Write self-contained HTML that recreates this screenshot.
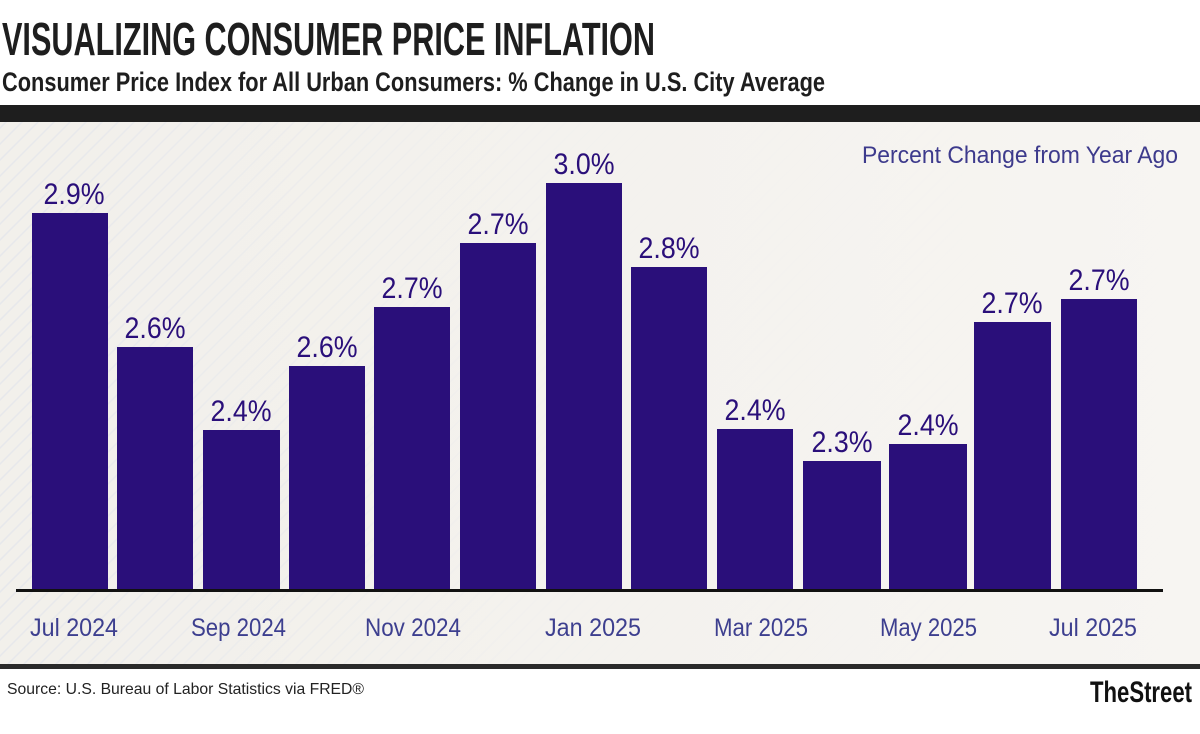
<!DOCTYPE html>
<html><head><meta charset="utf-8"><style>
html,body{margin:0;padding:0;background:#fff;}
svg{display:block}
text{font-family:"Liberation Sans Narrow","Liberation Sans",sans-serif;}
</style></head><body>
<svg width="1200" height="734" viewBox="0 0 1200 734" xmlns="http://www.w3.org/2000/svg">
<defs>
<pattern id="hb" width="16" height="16" patternUnits="userSpaceOnUse">
<rect width="16" height="16" fill="#f1efea"/>
<path d="M0 16 L16 0 M-4 4 L4 -4 M12 20 L20 12" stroke="#e3e5ea" stroke-width="1.5"/>
</pattern>
<linearGradient id="fade" x1="0" x2="1" y1="0" y2="0">
<stop offset="0" stop-color="#f4f2ee" stop-opacity="0.2"/>
<stop offset="0.45" stop-color="#f4f2ee" stop-opacity="0.9"/>
<stop offset="1" stop-color="#f7f5f2" stop-opacity="1"/>
</linearGradient>
</defs>
<rect width="1200" height="734" fill="#fff"/>
<text x="2" y="55" font-size="46" font-weight="bold" fill="#1e1e1e" textLength="653" lengthAdjust="spacingAndGlyphs">VISUALIZING CONSUMER PRICE INFLATION</text>
<text x="2" y="91" font-size="27" font-weight="bold" fill="#1e1e1e" textLength="823" lengthAdjust="spacingAndGlyphs">Consumer Price Index for All Urban Consumers: % Change in U.S. City Average</text>
<rect x="0" y="105" width="1200" height="17" fill="#1e1e1e"/>
<rect x="0" y="122" width="1200" height="542" fill="url(#hb)"/>
<rect x="0" y="122" width="1200" height="542" fill="url(#fade)"/>
<rect x="0" y="664" width="1200" height="5" fill="#2a2a2a"/>
<text x="1178" y="163" font-size="24" fill="#3d3a8c" text-anchor="end" textLength="316" lengthAdjust="spacingAndGlyphs">Percent Change from Year Ago</text>
<g fill="#2a0f7a">
<rect x="32" y="213" width="76" height="377"/>
<rect x="117" y="347" width="76" height="243"/>
<rect x="203" y="430" width="77" height="160"/>
<rect x="289" y="366" width="76" height="224"/>
<rect x="374" y="307" width="76" height="283"/>
<rect x="460" y="243" width="76" height="347"/>
<rect x="546" y="183" width="76" height="407"/>
<rect x="631" y="267" width="76" height="323"/>
<rect x="717" y="429" width="76" height="161"/>
<rect x="803" y="461" width="78" height="129"/>
<rect x="889" y="444" width="78" height="146"/>
<rect x="974" y="322" width="77" height="268"/>
<rect x="1061" y="299" width="76" height="291"/>
</g>
<rect x="16" y="589" width="1147" height="3" fill="#111"/>
<g font-size="30" fill="#2a0f7a" text-anchor="middle">
<text x="74" y="204" textLength="61" lengthAdjust="spacingAndGlyphs">2.9%</text>
<text x="155" y="338" textLength="61" lengthAdjust="spacingAndGlyphs">2.6%</text>
<text x="241" y="421" textLength="61" lengthAdjust="spacingAndGlyphs">2.4%</text>
<text x="327" y="357" textLength="61" lengthAdjust="spacingAndGlyphs">2.6%</text>
<text x="412" y="298" textLength="61" lengthAdjust="spacingAndGlyphs">2.7%</text>
<text x="498" y="234" textLength="61" lengthAdjust="spacingAndGlyphs">2.7%</text>
<text x="584" y="174" textLength="61" lengthAdjust="spacingAndGlyphs">3.0%</text>
<text x="669" y="258" textLength="61" lengthAdjust="spacingAndGlyphs">2.8%</text>
<text x="755" y="420" textLength="61" lengthAdjust="spacingAndGlyphs">2.4%</text>
<text x="842" y="452" textLength="61" lengthAdjust="spacingAndGlyphs">2.3%</text>
<text x="928" y="435" textLength="61" lengthAdjust="spacingAndGlyphs">2.4%</text>
<text x="1012" y="313" textLength="61" lengthAdjust="spacingAndGlyphs">2.7%</text>
<text x="1099" y="290" textLength="61" lengthAdjust="spacingAndGlyphs">2.7%</text>
</g>
<g font-size="25" fill="#3d3f8f">
<text x="30" y="636" textLength="88" lengthAdjust="spacingAndGlyphs">Jul 2024</text>
<text x="191" y="636" textLength="95" lengthAdjust="spacingAndGlyphs">Sep 2024</text>
<text x="365" y="636" textLength="96" lengthAdjust="spacingAndGlyphs">Nov 2024</text>
<text x="545" y="636" textLength="96" lengthAdjust="spacingAndGlyphs">Jan 2025</text>
<text x="714" y="636" textLength="94" lengthAdjust="spacingAndGlyphs">Mar 2025</text>
<text x="880" y="636" textLength="97" lengthAdjust="spacingAndGlyphs">May 2025</text>
<text x="1049" y="636" textLength="88" lengthAdjust="spacingAndGlyphs">Jul 2025</text>
</g>
<text x="7" y="694" font-size="16" fill="#222" font-family="Liberation Sans, sans-serif" textLength="357" lengthAdjust="spacingAndGlyphs">Source: U.S. Bureau of Labor Statistics via FRED®</text>
<text x="1192" y="702" font-size="30" font-weight="bold" fill="#111" text-anchor="end" textLength="102" lengthAdjust="spacingAndGlyphs">TheStreet</text>
</svg>
</body></html>
